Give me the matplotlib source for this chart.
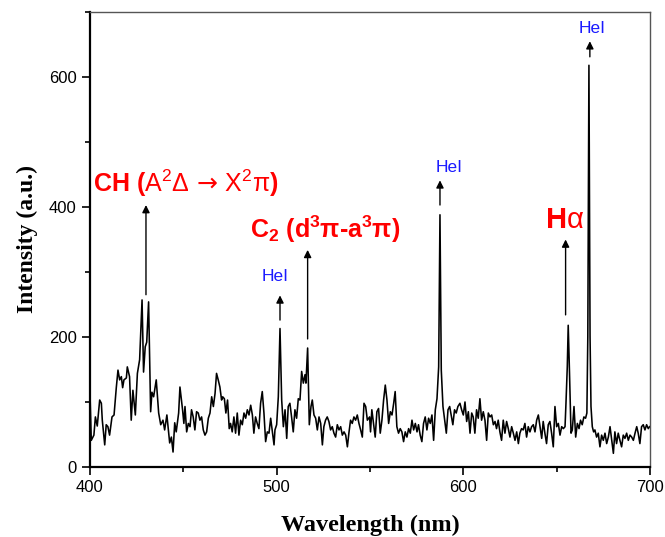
import matplotlib
matplotlib.use("Agg")
import matplotlib.pyplot as plt
from matplotlib.ticker import MultipleLocator

plt.rcParams['font.family'] = ['Liberation Sans', 'DejaVu Sans']
plt.rcParams['mathtext.fontset'] = 'custom'
plt.rcParams['mathtext.rm'] = 'Liberation Sans'
plt.rcParams['mathtext.it'] = 'Liberation Sans:italic'
plt.rcParams['mathtext.bf'] = 'Liberation Sans:bold'
plt.rcParams['mathtext.sf'] = 'DejaVu Sans'

# spektrum (nm, a.u.)
wavelength = [
    400.0, 400.7, 402.1, 402.9, 403.9, 405.2, 406.1, 406.6, 407.9, 408.7, 409.6, 410.5, 411.8, 412.9,
    414.1, 415.0, 415.9, 416.8, 417.5, 418.2, 419.5, 420.0, 421.2, 422.1, 423.0, 424.3, 425.4, 426.6,
    427.1, 427.9, 428.7, 429.6, 430.4, 431.4, 432.5, 433.2, 434.1, 435.5, 436.8, 437.9, 439.1, 440.0,
    441.2, 442.7, 443.6, 444.5, 445.4, 446.2, 447.5,
    448.2, 449.6, 450.3, 450.9, 451.8, 452.7, 453.6, 454.4, 455.3, 456.2, 457.1, 458.0, 458.9, 459.8,
    460.7, 461.6, 462.5, 463.4, 464.3, 465.2, 466.1, 467.0, 467.8, 468.7, 469.6, 470.5, 471.1, 472.0,
    472.8, 473.7, 474.6, 475.3, 476.2, 477.1, 478.0, 478.9, 479.8, 480.7, 481.6, 482.5, 483.4, 484.3,
    485.2, 486.1, 487.0, 487.8, 488.7, 489.6, 490.5, 491.4, 492.3, 493.2, 494.1, 495.0, 495.9, 496.8,
    497.7, 498.6,
    499.1, 500.0, 500.9, 501.8, 502.7, 503.6, 504.5, 505.4, 506.2, 507.1, 508.0, 508.9, 509.8, 510.7,
    511.6, 512.5, 513.4, 514.3, 515.2, 515.7, 516.6, 517.5, 518.4, 519.1, 520.0, 520.9, 521.8, 522.7,
    523.6, 524.5, 525.3, 526.2, 527.1, 528.0, 528.9, 529.8, 530.7, 531.6, 532.5, 533.4, 534.3, 535.2,
    536.1, 537.0, 537.9, 538.7, 539.6, 540.5, 541.4, 542.3, 543.2, 544.1, 545.0, 545.9, 546.8, 547.7,
    548.6,
    549.8, 550.3, 551.0, 551.9, 552.8, 553.7, 554.6, 555.5, 556.4, 557.3, 558.2, 559.1, 560.0, 560.9,
    561.8, 562.7, 563.5, 564.4, 565.3, 566.2, 567.1, 568.0, 568.9, 569.8, 570.7, 571.6, 572.5, 573.4,
    574.3, 575.2, 576.0, 576.9, 577.8, 578.7, 579.6, 580.5, 581.4, 582.3, 583.2, 584.1, 585.0, 585.9,
    586.8, 587.5, 588.2, 589.1, 590.0, 590.9, 591.8, 592.7, 593.5, 594.4, 595.3, 596.2, 597.1,
    598.2, 599.1, 600.0, 600.9, 601.8, 602.7, 603.6, 604.5, 605.3, 606.2, 607.1, 608.0, 608.9, 609.8,
    610.7, 611.6, 612.5, 613.4, 614.3, 615.2, 616.1, 617.0, 617.8, 618.7, 619.6, 620.5, 621.4, 622.3,
    623.2, 624.1, 625.0, 625.9, 626.8, 627.7, 628.6, 629.5, 630.3, 631.2, 632.1, 633.0, 633.9, 634.8,
    635.7, 636.6, 637.5, 638.4, 639.3, 640.2, 641.1, 642.0, 642.8, 643.7, 644.6, 645.5, 646.4, 647.3,
    648.2,
    649.1, 650.0, 650.9, 651.8, 652.7, 653.6, 654.5, 655.0, 655.7, 656.2, 656.9, 657.7, 658.4, 659.3,
    660.2, 661.1, 662.0, 662.8, 663.7, 664.6, 665.5, 666.2, 666.7, 667.3, 667.9, 668.4, 669.1, 669.8,
    670.5, 671.4, 672.3, 673.2, 674.1, 675.0, 675.9, 676.8, 677.7, 678.6, 679.5, 680.4, 681.2, 682.1,
    683.0, 683.9, 684.8, 685.7, 686.6, 687.5, 688.4, 689.3, 690.2, 691.1, 692.0, 692.9, 693.7, 694.6,
    695.5, 696.4, 697.3, 698.2, 699.1, 699.8,
]
intensity = [
    114, 41, 49, 77, 63, 103, 98, 72, 34, 65, 62, 49, 77, 80,
    122, 149, 134, 139, 122, 134, 137, 154, 139, 72, 118, 80, 144, 165,
    200, 257, 146, 185, 192, 254, 85, 115, 108, 134, 83, 65, 72, 57,
    80, 37, 46, 23, 68, 54, 83,
    123, 88, 67, 93, 54, 67, 62, 88, 77, 57, 85, 83, 72, 77,
    57, 49, 54, 75, 83, 108, 93, 113, 144, 134, 123, 103, 108, 105,
    83, 103, 59, 67, 54, 77, 52, 83, 49, 72, 65, 83, 75, 88,
    80, 95, 80, 52, 77, 67, 59, 98, 116, 83, 39, 54, 52, 75,
    54, 34,
    57, 65, 108, 213, 103, 62, 88, 44, 93, 98, 77, 54, 88, 75,
    105, 103, 147, 129, 142, 129, 183, 65, 93, 103, 80, 75, 57, 77,
    67, 34, 62, 72, 77, 70, 57, 62, 52, 46, 65, 57, 62, 49,
    54, 49, 31, 52, 72, 67, 77, 72, 80, 67, 57, 46, 98, 93,
    72,
    77, 54, 88, 67, 46, 85, 90, 52, 72, 103, 126, 103, 67, 85,
    80, 98, 116, 62, 52, 59, 54, 39, 54, 46, 59, 52, 72, 57,
    67, 54, 65, 49, 39, 67, 77, 57, 75, 67, 80, 41, 88, 105,
    154, 388, 149, 93, 72, 52, 88, 93, 80, 65, 88, 83, 93,
    98, 88, 80, 100, 70, 85, 52, 83, 77, 52, 88, 75, 105, 72,
    85, 72, 41, 83, 77, 80, 65, 70, 59, 72, 54, 41, 72, 52,
    70, 59, 46, 62, 52, 41, 54, 36, 52, 59, 57, 67, 46, 62,
    54, 62, 65, 54, 72, 80, 62, 44, 70, 52, 36, 65, 70, 52,
    31,
    93, 62, 67, 49, 62, 59, 62, 98, 154, 218, 144, 52, 57, 93,
    46, 67, 59, 72, 65, 77, 75, 83, 200, 618, 200, 93, 62, 54,
    57, 46, 52, 31, 49, 41, 52, 36, 46, 62, 41, 21, 54, 36,
    52, 41, 31, 49, 44, 52, 41, 49, 46, 41, 52, 62, 52, 36,
    62, 65, 57, 65, 59, 62,
]

fig = plt.figure(figsize=(6.65, 5.37), dpi=100)
ax = fig.add_axes([0.1353, 0.1304, 0.8421, 0.8473])
ax.plot(wavelength, intensity, color='black', lw=1.15)

ax.set_xlim(400, 700)
ax.set_ylim(0, 700)
ax.set_xticks([400, 500, 600, 700])
ax.set_yticks([0, 200, 400, 600])
ax.xaxis.set_minor_locator(MultipleLocator(50))
ax.yaxis.set_minor_locator(MultipleLocator(100))
ax.tick_params(which='both', direction='out', width=1.2, labelsize=12, top=False, right=False)
ax.tick_params(which='major', length=6)
ax.tick_params(which='minor', length=3.5)

for s in ['left', 'bottom']:
    ax.spines[s].set_linewidth(1.6)
    ax.spines[s].set_color('black')
for s in ['top', 'right']:
    ax.spines[s].set_linewidth(1.0)
    ax.spines[s].set_color('#555555')

ax.set_xlabel('Wavelength (nm)', family='Liberation Serif', fontweight='bold', fontsize=17.5, labelpad=14)
ax.set_ylabel('Intensity (a.u.)', family='Liberation Serif', fontweight='bold', fontsize=17, labelpad=8)

# panah penanda garis emisi
def arrow(x, y0, y1):
    ax.annotate('', xy=(x, y1), xytext=(x, y0),
                arrowprops=dict(arrowstyle='-|>', color='black', lw=1.0,
                                mutation_scale=11, shrinkA=0, shrinkB=0))

arrow(430.0, 265, 403)
arrow(516.6, 197, 334)
arrow(501.8, 226, 264)
arrow(587.5, 403, 441)
arrow(654.8, 234, 350)
arrow(667.8, 631, 655)

red = '#ff0000'
blue = '#1a1aff'
ax.text(401.6, 437, r'CH ($\mathrm{A^2\Delta}\,\mathsf{\rightarrow}\,\mathrm{X^2\pi}$)', color=red,
        fontsize=18, fontweight='bold', ha='left', va='center')
ax.text(485.5, 365, r'C$_\mathbf{2}$ (d$^\mathbf{3}$π-a$^\mathbf{3}$π)', color=red, fontsize=18,
        fontweight='bold', ha='left', va='center')
ax.text(654.2, 380, r'$\mathbf{H}$α', color=red, fontsize=21, ha='center', va='center')
ax.text(499.3, 293, 'HeI', color=blue, fontsize=12.5, ha='center', va='center')
ax.text(592.3, 461, 'HeI', color=blue, fontsize=12.5, ha='center', va='center')
ax.text(668.8, 675, 'HeI', color=blue, fontsize=12.5, ha='center', va='center')

plt.savefig('out.png', dpi=100)
